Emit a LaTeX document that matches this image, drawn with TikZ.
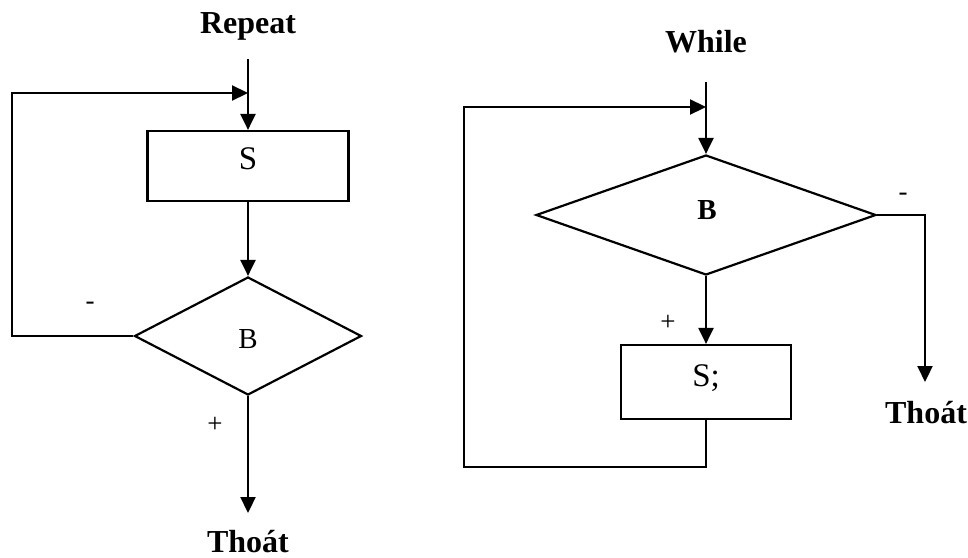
\documentclass[tikz,border=0pt]{standalone}
\usepackage{fontspec}
\setmainfont{Liberation Serif}
\usetikzlibrary{arrows.meta,shapes.geometric}
\begin{document}
\begin{tikzpicture}[x=1pt,y=-1pt,
  line width=2.2pt,
  tip/.style={-{Triangle[length=16pt,width=15pt]}},
  procbox/.style={draw,rectangle,inner sep=0pt},
  decide/.style={draw,diamond,inner sep=0pt,aspect=2},
  title/.style={font=\bfseries\fontsize{32}{38}\selectfont,anchor=base,inner sep=0pt},
  sign/.style={font=\fontsize{27}{32}\selectfont,inner sep=0pt}]
\useasboundingbox (0,0) rectangle (968,557);

% ---- Repeat loop ----
\node[title] (rep) at (248,33) {Repeat};
\coordinate (rtop) at (248,59);
\node[procbox, minimum width=201pt, minimum height=70pt] (s1) at (248,166) {};
\node[font=\fontsize{33}{38}\selectfont, inner sep=0pt] (s1t) at (248,159) {S};
\node[decide, minimum width=227pt, minimum height=118pt] (b1) at (248,336) {};
\node[font=\fontsize{29}{34}\selectfont, inner sep=0pt] (b1t) at (248,339) {B};
\coordinate (join1) at (248,93);
\coordinate (c1) at (12,93);
\coordinate (exit1) at (248,513);

\draw[tip] (rtop) -- (s1.north);
\draw[tip] (s1.south) -- (b1.north);
\draw[tip] (b1.west) -| (c1) -- (join1);
\draw[tip] (b1.south) -- (exit1);

\node[title] (th1) at (248,552) {Thoát};
\node[sign] (m1) at (90,306) {-};
\node[sign] (p1) at (215,425) {+};

% ---- While loop ----
\node[title] (wh) at (706,52) {While};
\coordinate (wtop) at (706,82);
\node[decide, minimum width=340pt, minimum height=120pt] (b2) at (706,215) {};
\node[font=\bfseries\fontsize{29}{34}\selectfont, inner sep=0pt] (b2t) at (707,210) {B};
\node[procbox, minimum width=170pt, minimum height=74pt] (s2) at (706,382) {};
\node[font=\fontsize{33}{38}\selectfont, inner sep=0pt] (s2t) at (706,378) {S;};
\coordinate (join2) at (706,107);
\coordinate (c2) at (464,107);
\coordinate (c3) at (464,467);
\coordinate (exit2) at (925,382);

\draw[tip] (wtop) -- (b2.north);
\draw[tip] (b2.south) -- (s2.north);
\draw[tip] (s2.south) |- (c3) -- (c2) -- (join2);
\draw[tip] (b2.east) -| (exit2);

\node[title] (th2) at (926,423) {Thoát};
\node[sign] (m2) at (903,197) {-};
\node[sign] (p2) at (668,323) {+};
\end{tikzpicture}
\end{document}
